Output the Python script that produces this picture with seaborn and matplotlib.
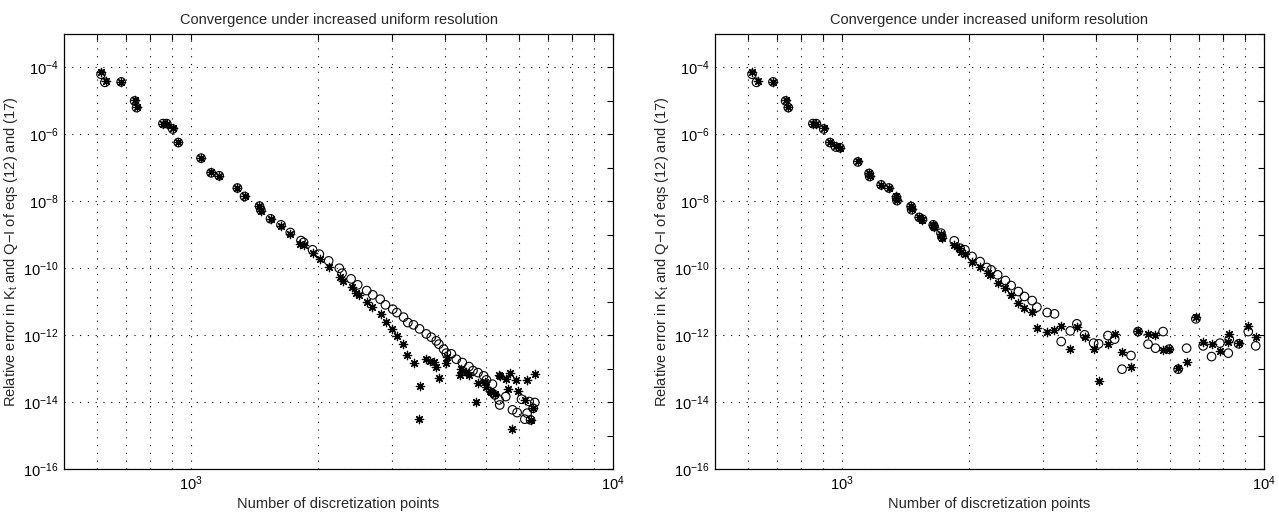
import numpy as np
import pandas as pd
import matplotlib
matplotlib.use("Agg")
import matplotlib.pyplot as plt
import seaborn as sns
from matplotlib.ticker import FixedLocator, FuncFormatter, NullFormatter

# ---------------- data ----------------
left_circle_n = [612, 625, 683, 735, 743, 858, 876, 905, 933, 1056, 1116, 1166, 1288, 1339, 1453,
                 1464, 1543, 1634, 1719, 1822, 1848, 1941, 2014, 2119, 2246, 2280, 2395, 2483, 2608,
                 2696, 2807, 2889, 3007, 3074, 3188, 3264, 3367, 3480, 3610, 3710, 3812, 3867, 3968,
                 4027, 4139, 4253, 4395, 4557, 4658, 4786, 4938, 5012, 5179, 5245, 5370, 5391, 5570,
                 5778, 5926, 6070, 6180, 6258, 6327, 6376, 6467, 6527]
left_circle_err = [6.3e-5, 3.6e-5, 3.7e-5, 1.0e-5, 6.3e-6, 2.1e-6, 2.1e-6, 1.45e-6, 5.7e-7, 1.95e-7,
                   7.1e-8, 5.8e-8, 2.5e-8, 1.4e-8, 7.2e-9, 5.5e-9, 3.0e-9, 1.98e-9, 1.17e-9, 6.7e-10,
                   5.9e-10, 3.55e-10, 2.64e-10, 1.66e-10, 1.0e-10, 7.1e-11, 4.8e-11, 3.19e-11, 2.15e-11,
                   1.6e-11, 1.19e-11, 8.05e-12, 5.98e-12, 4.73e-12, 3.45e-12, 2.38e-12, 2.03e-12,
                   1.54e-12, 1.09e-12, 8.7e-13, 6.75e-13, 5.38e-13, 3.81e-13, 2.9e-13, 2.76e-13,
                   1.91e-13, 1.52e-13, 1.15e-13, 8.7e-14, 7.6e-14, 6.07e-14, 4.61e-14, 3.43e-14,
                   1.64e-14, 1.16e-14, 8.2e-15, 1.46e-14, 5.85e-15, 4.85e-15, 1.22e-14, 3.08e-15,
                   4.66e-15, 1.04e-14, 2.94e-15, 6.56e-15, 9.7e-15]

left_star_n = [612, 630, 683, 735, 743, 858, 876, 905, 933, 1056, 1116, 1166, 1288, 1339, 1453,
               1464, 1543, 1636, 1719, 1812, 1848, 1949, 2022, 2119, 2250, 2288, 2403, 2461, 2506,
               2618, 2683, 2814, 2901, 2994, 3074, 3184, 3253, 3373, 3467, 3480, 3596, 3676, 3757,
               3812, 3867, 4012, 4050, 4330, 4370, 4490, 4557, 4730, 4786, 4960, 5012, 5100, 5130,
               5245, 5370, 5391, 5570, 5630, 5690, 5770, 5885, 5960, 6180, 6258, 6376, 6467, 6530]
left_star_err = [7.2e-5, 4.0e-5, 3.7e-5, 1.1e-5, 6.8e-6, 2.1e-6, 2.1e-6, 1.5e-6, 6.0e-7, 2.0e-7,
                 7.3e-8, 5.8e-8, 2.5e-8, 1.4e-8, 7.0e-9, 5.2e-9, 2.9e-9, 1.85e-9, 1.05e-9, 5.4e-10,
                 4.9e-10, 2.94e-10, 1.87e-10, 1.08e-10, 5.65e-11, 4.2e-11, 2.8e-11, 1.8e-11, 1.6e-11,
                 1.01e-11, 6.9e-12, 4.3e-12, 2.55e-12, 1.51e-12, 9.55e-13, 5.37e-13, 2.58e-13,
                 1.46e-13, 3.15e-15, 3.1e-14, 1.91e-13, 1.7e-13, 1.56e-13, 1.1e-13, 5.2e-14,
                 1.46e-13, 2.3e-13, 6.5e-14, 1.0e-13, 7.8e-14, 6.5e-14, 1.0e-14, 3.6e-14, 4.0e-14,
                 2.9e-14, 2.2e-14, 2.0e-14, 1.8e-14, 6.5e-14, 6.1e-14, 4.9e-14, 2.5e-14, 7.3e-14,
                 1.55e-15, 4.6e-14, 2.2e-14, 1.16e-14, 4.5e-14, 2.9e-15, 6.5e-15, 7.0e-14]

right_circle_n = [612, 627, 686, 735, 746, 853, 869, 905, 936, 966, 989, 1090, 1159, 1163, 1238,
                  1291, 1346, 1350, 1458, 1462, 1524, 1551, 1645, 1652, 1716, 1725, 1845, 1904, 1956,
                  2033, 2124, 2202, 2255, 2338, 2439, 2516, 2618, 2706, 2822, 2896, 3063, 3188, 3307,
                  3474, 3602, 3757, 3947, 4056, 4267, 4427, 4608, 4840, 5028, 5311, 5531, 5766, 5957,
                  6258, 6555, 6897, 7176, 7512, 7863, 8228, 8273, 8709, 9178, 9557]
right_circle_err = [6.3e-5, 3.6e-5, 3.7e-5, 1.0e-5, 6.3e-6, 2.1e-6, 2.1e-6, 1.45e-6, 5.7e-7, 4.2e-7,
                    4.0e-7, 1.5e-7, 6.8e-8, 5.5e-8, 3.1e-8, 2.5e-8, 1.3e-8, 1.05e-8, 7.0e-9, 5.6e-9,
                    3.3e-9, 2.9e-9, 1.98e-9, 1.76e-9, 1.12e-9, 8.5e-10, 6.6e-10, 3.99e-10, 3.55e-10,
                    2.24e-10, 1.58e-10, 1.05e-10, 8.96e-11, 6.35e-11, 4.29e-11, 3.04e-11, 2.01e-11,
                    1.43e-11, 1.08e-11, 6.87e-12, 4.74e-12, 4.33e-12, 6.44e-13, 1.34e-12, 2.18e-12,
                    1.02e-12, 5.77e-13, 5.5e-13, 9.7e-13, 7.6e-13, 9.6e-14, 2.46e-13, 1.28e-12,
                    5.38e-13, 4.08e-13, 1.28e-12, 3.81e-13, 9.6e-14, 4.08e-13, 3.07e-12, 4.79e-13,
                    2.29e-13, 5.77e-13, 2.9e-13, 7.6e-13, 5.5e-13, 1.28e-12, 4.79e-13]

right_star_n = [612, 632, 686, 735, 746, 853, 869, 905, 936, 966, 989, 1090, 1159, 1163, 1238,
                1291, 1346, 1350, 1458, 1462, 1524, 1551, 1645, 1652, 1716, 1725, 1845, 1889, 1914,
                1956, 2033, 2124, 2214, 2246, 2338, 2435, 2516, 2618, 2706, 2822, 2896, 3063, 3188,
                3307, 3474, 3602, 3757, 3947, 4056, 4267, 4427, 4608, 4840, 5028, 5311, 5531, 5766,
                5957, 6258, 6555, 6897, 7176, 7512, 7863, 8228, 8273, 8709, 9178, 9557]
right_star_err = [7.2e-5, 4.0e-5, 3.7e-5, 1.1e-5, 6.8e-6, 2.1e-6, 2.1e-6, 1.5e-6, 6.0e-7, 4.4e-7,
                  4.0e-7, 1.6e-7, 7.2e-8, 5.7e-8, 3.1e-8, 2.5e-8, 1.4e-8, 1.1e-8, 7.2e-9, 5.8e-9,
                  3.3e-9, 2.8e-9, 1.9e-9, 1.7e-9, 1.05e-9, 8.0e-10, 5.0e-10, 3.98e-10, 3.03e-10,
                  2.69e-10, 1.58e-10, 1.12e-10, 7.1e-11, 6.35e-11, 3.73e-11, 2.54e-11, 1.6e-11,
                  9.05e-12, 6.41e-12, 5.08e-12, 1.62e-12, 1.23e-12, 1.44e-12, 1.9e-12, 3.81e-13,
                  1.73e-12, 8.7e-13, 3.81e-13, 4.4e-14, 5.38e-13, 1.09e-12, 3.1e-13, 1.15e-13,
                  1.34e-12, 1.09e-12, 1.02e-12, 3.63e-13, 3.81e-13, 1.03e-13, 1.63e-13, 3.6e-12,
                  6.1e-13, 5.5e-13, 3.47e-13, 6.44e-13, 1.09e-12, 5.77e-13, 1.9e-12, 8.7e-13]

x_major = [1e3, 1e4]
x_minor = [600, 700, 800, 900, 2000, 3000, 4000, 5000, 6000, 7000, 8000, 9000]
y_major = [1e-16, 1e-14, 1e-12, 1e-10, 1e-8, 1e-6, 1e-4]
y_minor = [1e-15, 1e-13, 1e-11, 1e-9, 1e-7, 1e-5, 1e-3]

title_text = "Convergence under increased uniform resolution"
xlabel_text = "Number of discretization points"
ylabel_text = r"Relative error in K$_\mathregular{t}$ and Q$\mathregular{-}$I of eqs (12) and (17)"

# ---------------- style ----------------
sns.set_style("white")
plt.rcParams["font.family"] = ["Liberation Sans", "DejaVu Sans"]
plt.rcParams["mathtext.fontset"] = "custom"
plt.rcParams["mathtext.rm"] = "Liberation Sans"
plt.rcParams["mathtext.it"] = "Liberation Sans:italic"
plt.rcParams["mathtext.bf"] = "Liberation Sans:bold"
plt.rcParams["axes.unicode_minus"] = False

fig = plt.figure(figsize=(12.79, 5.12), dpi=100)
W, H = 1279.0, 512.0
ax_left = fig.add_axes([64 / W, (H - 469) / H, 549 / W, 435 / H])
ax_right = fig.add_axes([715 / W, (H - 469) / H, 549 / W, 435 / H])

grid_kw = dict(color="black", linestyle=(0, (1, 6)), linewidth=0.8)


def log_fmt(v, pos):
    e = int(round(np.log10(v)))
    return r"$\mathregular{10^{%d}}$" % e


def draw_panel(ax, cn, ce, sn, se):
    dfc = pd.DataFrame({"n": cn, "err": ce})
    dfs = pd.DataFrame({"n": sn, "err": se})
    sns.scatterplot(data=dfs, x="n", y="err", ax=ax, marker=(8, 2, 0), s=36,
                    color="black", linewidth=0.9, legend=False, zorder=3)
    sns.scatterplot(data=dfc, x="n", y="err", ax=ax, marker="o", s=38,
                    color="black", linewidth=0.8, legend=False, zorder=4)
    ax.collections[0].set_edgecolor("black")
    ax.collections[0].set_facecolor("black")
    ax.collections[1].set_facecolor("none")
    ax.collections[1].set_edgecolor("black")

    ax.set_xscale("log")
    ax.set_yscale("log")
    ax.set_xlim(500, 1e4)
    ax.set_ylim(1e-16, 1e-3)

    ax.xaxis.set_major_locator(FixedLocator(x_major))
    ax.xaxis.set_minor_locator(FixedLocator(x_minor))
    ax.xaxis.set_major_formatter(FuncFormatter(log_fmt))
    ax.xaxis.set_minor_formatter(NullFormatter())
    ax.yaxis.set_major_locator(FixedLocator(y_major))
    ax.yaxis.set_minor_locator(FixedLocator(y_minor))
    ax.yaxis.set_major_formatter(FuncFormatter(log_fmt))
    ax.yaxis.set_minor_formatter(NullFormatter())

    ax.set_axisbelow(True)
    ax.grid(False)
    ax.grid(True, which="both", axis="x", **grid_kw)
    ax.grid(True, which="major", axis="y", **grid_kw)

    ax.tick_params(which="both", direction="in", top=True, right=True,
                   length=4, width=0.8, colors="black", labelsize=10.5, pad=4)
    for sp in ax.spines.values():
        sp.set_visible(True)
        sp.set_color("black")
        sp.set_linewidth(0.9)

    ax.set_title(title_text, fontsize=10.5, pad=7)
    ax.set_xlabel(xlabel_text, fontsize=10.5, labelpad=3)
    ax.set_ylabel(ylabel_text, fontsize=10.5, labelpad=2)


draw_panel(ax_left, left_circle_n, left_circle_err, left_star_n, left_star_err)
draw_panel(ax_right, right_circle_n, right_circle_err, right_star_n, right_star_err)

fig.savefig("out.png", dpi=100, facecolor="white")
